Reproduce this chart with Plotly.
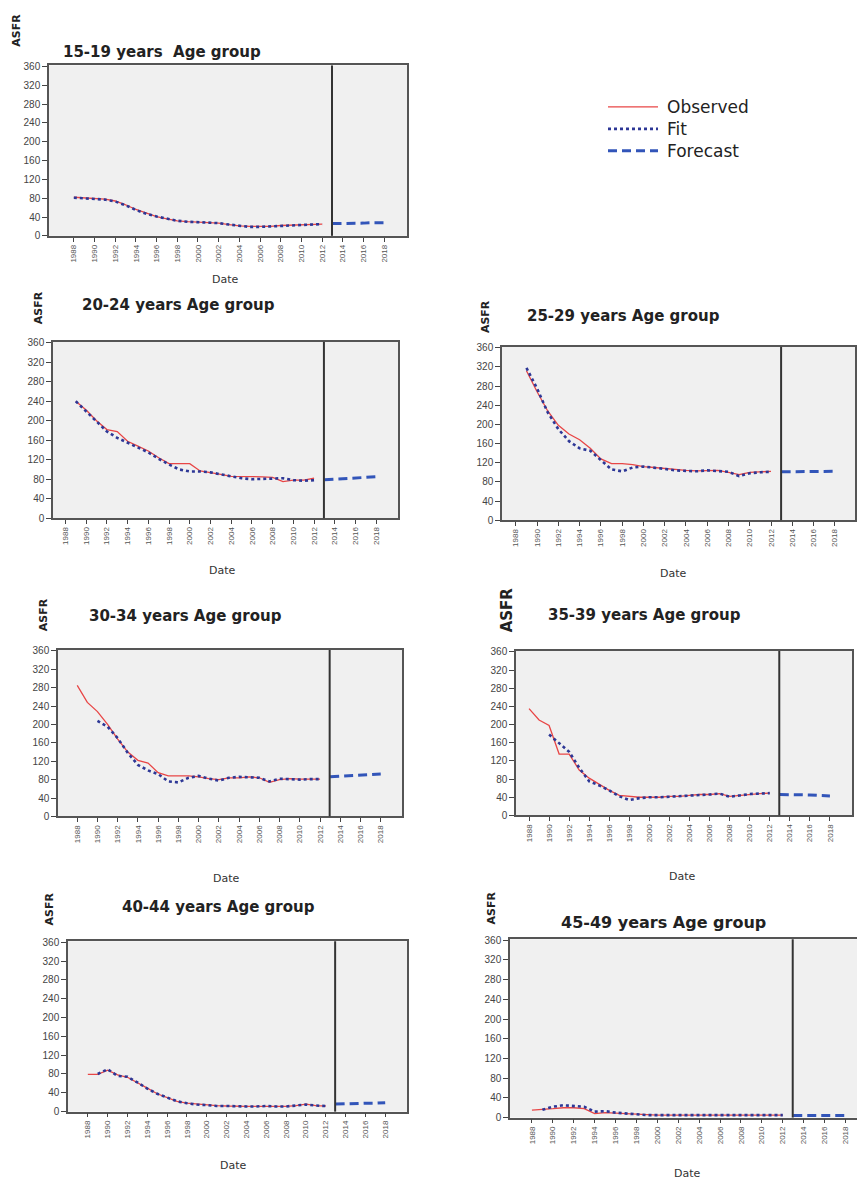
import plotly.graph_objects as go

# ---------------- data ----------------
years_obs = list(range(1988, 2013))
years_fc = list(range(2013, 2019))
tick_years = list(range(1988, 2019, 2))
y_ticks = list(range(0, 361, 40))

titles = ["15-19 years  Age group", "20-24 years Age group", "25-29 years Age group",
          "30-34 years Age group", "35-39 years Age group", "40-44 years Age group",
          "45-49 years Age group"]
legend_names = ["Observed", "Fit", "Forecast"]

obs_15_19 = [82, 81, 79, 78, 74, 66, 56, 48, 41, 36, 32, 30, 29, 28, 27, 24, 21, 20, 20, 20, 22, 23, 24, 24, 25]
fit_15_19 = [81, 80, 78, 77, 73, 65, 55, 47, 41, 36, 32, 30, 29, 28, 27, 24, 21, 19, 19, 20, 22, 23, 24, 24, 25]
fc_15_19 = [26, 26, 27, 27, 28, 28]

obs_20_24 = [None, 240, 222, 200, 182, 178, 158, 148, 138, 124, 112, 112, 112, 97, 94, 90, 86, 86, 86, 85, 84, 75, 78, 78, 82]
fit_20_24 = [None, 240, 220, 198, 178, 165, 155, 145, 135, 122, 110, 100, 96, 96, 94, 90, 86, 82, 80, 81, 82, 82, 78, 77, 78]
fc_20_24 = [79, 80, 81, 82, 83, 85]

obs_25_29 = [None, 312, 268, 228, 198, 180, 168, 150, 128, 118, 118, 116, 112, 110, 108, 105, 104, 103, 104, 104, 100, 95, 100, 101, 102]
fit_25_29 = [None, 318, 275, 225, 190, 165, 150, 145, 125, 106, 102, 110, 112, 110, 107, 104, 103, 102, 104, 103, 101, 92, 98, 100, 101]
fc_25_29 = [101, 101, 102, 102, 102, 102]

obs_30_34 = [285, 248, 228, 200, 168, 140, 122, 116, 95, 88, 88, 88, 86, 82, 80, 84, 84, 86, 84, 74, 80, 82, 81, 81, 81]
fit_30_34 = [None, None, 208, 195, 170, 138, 112, 100, 92, 76, 74, 84, 88, 82, 78, 84, 86, 85, 84, 76, 82, 81, 80, 81, 81]
fc_30_34 = [86, 87, 88, 89, 90, 92]

obs_35_39 = [235, 210, 198, 135, 135, 100, 82, 68, 55, 44, 42, 40, 40, 40, 42, 42, 44, 46, 46, 48, 42, 44, 47, 48, 49]
fit_35_39 = [None, None, 178, 158, 140, 105, 75, 66, 55, 42, 34, 38, 40, 40, 41, 42, 44, 45, 46, 48, 41, 44, 47, 48, 49]
fc_35_39 = [46, 46, 45, 45, 44, 43]

obs_40_44 = [79, 79, 88, 78, 73, 62, 50, 38, 30, 22, 18, 16, 14, 13, 12, 11, 11, 11, 11, 11, 11, 13, 16, 13, 12]
fit_40_44 = [None, 80, 90, 76, 74, 62, 49, 38, 30, 22, 18, 15, 14, 12, 12, 11, 11, 11, 12, 11, 11, 13, 15, 13, 12]
fc_40_44 = [16, 17, 17, 18, 18, 19]

obs_45_49 = [15, 16, 18, 20, 20, 18, 8, 10, 9, 7, 6, 5, 5, 5, 5, 5, 5, 5, 5, 5, 5, 5, 5, 5, 5]
fit_45_49 = [None, 16, 22, 25, 24, 22, 12, 13, 10, 8, 6, 5, 5, 5, 5, 5, 5, 5, 5, 5, 5, 5, 5, 5, 5]
fc_45_49 = [4, 4, 4, 4, 4, 4]

observed = [obs_15_19, obs_20_24, obs_25_29, obs_30_34, obs_35_39, obs_40_44, obs_45_49]
fitted = [fit_15_19, fit_20_24, fit_25_29, fit_30_34, fit_35_39, fit_40_44, fit_45_49]
forecast = [fc_15_19, fc_20_24, fc_25_29, fc_30_34, fc_35_39, fc_40_44, fc_45_49]
forecast_start = 2012.95

# ---------------- layout geometry (pixels) ----------------
W, H = 857, 1186
boxes = [(49, 407, 61, 233), (53, 398, 340, 518), (502, 855, 345, 520),
         (58, 402, 651, 819), (516, 852, 652, 818), (68, 407, 945, 1117),
         (510, 860, 943, 1123)]
xranges = [(1985.6, 2020.2), (1986.8, 2020.1), (1986.7, 2019.9), (1986.1, 2020.1),
           (1986.7, 2020.2), (1986.0, 2020.2), (1985.9, 2019.1)]
title_pos = [(162, 47, 15), (178, 303, 15), (623, 314, 15), (185, 617, 15),
             (644, 616, 15), (218, 910, 15), (663, 926, 16)]
asfr_pos = [(17, 26, 11), (38, 306, 11), (485, 315, 11), (43, 616, 11),
            (507, 611, 15), (50, 913, 11), (492, 912, 11)]
date_pos = [(225, 277), (222, 571), (673, 574), (227, 882), (682, 880), (233, 1171), (687, 1179)]

RED = "rgb(232,70,70)"
FIT = "rgb(45,55,150)"
FC = "rgb(50,85,185)"
styles = [dict(color=RED, width=1.3), dict(color=FIT, width=2.6, dash="dot"),
          dict(color=FC, width=3, dash="9px,5px")]

fig = go.Figure()
annotations = []
shapes = []

def px_x(p):
    return p / W

def px_y(p):
    return 1 - p / H

for i in range(7):
    n = "" if i == 0 else str(i + 1)
    xa, ya = "x" + n, "y" + n
    fig.add_trace(go.Scatter(x=years_obs, y=observed[i], mode="lines", name=legend_names[0],
                             line=styles[0], xaxis=xa, yaxis=ya, showlegend=False))
    fig.add_trace(go.Scatter(x=years_obs, y=fitted[i], mode="lines", name=legend_names[1],
                             line=styles[1], xaxis=xa, yaxis=ya, showlegend=False))
    fig.add_trace(go.Scatter(x=years_fc, y=forecast[i], mode="lines", name=legend_names[2],
                             line=styles[2], xaxis=xa, yaxis=ya, showlegend=False))

    x0, x1, y0, y1 = boxes[i]
    fig.layout["xaxis" + n] = dict(
        domain=[px_x(x0), min(1.0, px_x(x1))], anchor=ya, range=list(xranges[i]),
        tickvals=tick_years, ticktext=[str(t) for t in tick_years], tickangle=-90,
        ticks="outside", ticklen=4, tickcolor="#444", tickwidth=1,
        tickfont=dict(family="Liberation Sans", size=8, color="#555"),
        showline=True, linecolor="#555", linewidth=1.5, mirror=True,
        showgrid=False, zeroline=False, fixedrange=True)
    fig.layout["yaxis" + n] = dict(
        domain=[px_y(y1), px_y(y0)], anchor=xa, range=[0, 362],
        tickvals=y_ticks, ticks="outside", ticklen=5, tickcolor="#444", tickwidth=1,
        tickfont=dict(family="Liberation Sans", size=10, color="#444"),
        showline=True, linecolor="#555", linewidth=1.5, mirror=(i != 6),
        showgrid=False, zeroline=False, fixedrange=True)

    shapes.append(dict(type="line", xref=xa, yref=ya + " domain", x0=forecast_start,
                       x1=forecast_start, y0=0, y1=1, line=dict(color="#333", width=2)))

    tx, ty, ts = title_pos[i]
    annotations.append(dict(text="<b>" + titles[i] + "</b>", x=px_x(tx), y=px_y(ty),
                            xref="paper", yref="paper", showarrow=False,
                            xanchor="center", yanchor="middle",
                            font=dict(family="DejaVu Sans", size=ts, color="#222")))
    ax_, ay_, asz = asfr_pos[i]
    annotations.append(dict(text="<b>ASFR</b>", x=px_x(ax_), y=px_y(ay_), xref="paper",
                            yref="paper", showarrow=False, textangle=-90,
                            xanchor="center", yanchor="middle",
                            font=dict(family="DejaVu Sans", size=asz, color="#222")))
    dx, dy = date_pos[i]
    annotations.append(dict(text="Date", x=px_x(dx), y=px_y(dy), xref="paper",
                            yref="paper", showarrow=False, xanchor="center",
                            yanchor="middle",
                            font=dict(family="DejaVu Sans", size=11, color="#333")))

# legend (key samples + one multi-line label block)
legend_font = 17
row_gap = legend_font * 1.3
legend_mid = 125
for k in range(3):
    yy = px_y(legend_mid + (k - 1) * row_gap)
    shapes.append(dict(type="line", xref="paper", yref="paper", x0=px_x(608), x1=px_x(658),
                       y0=yy, y1=yy, line=styles[k]))
annotations.append(dict(text="<br>".join(legend_names), x=px_x(665), y=px_y(legend_mid),
                        xref="paper", yref="paper", showarrow=False, xanchor="left",
                        yanchor="middle", align="left",
                        font=dict(family="DejaVu Sans", size=legend_font, color="#222")))

fig.update_layout(
    width=W, height=H, margin=dict(l=0, r=0, t=0, b=0),
    paper_bgcolor="white", plot_bgcolor="#f0f0f0",
    annotations=annotations, shapes=shapes, showlegend=False,
)

fig.write_html("out.html", config={"displayModeBar": False},
               post_script="document.body.style.margin='0px';")
